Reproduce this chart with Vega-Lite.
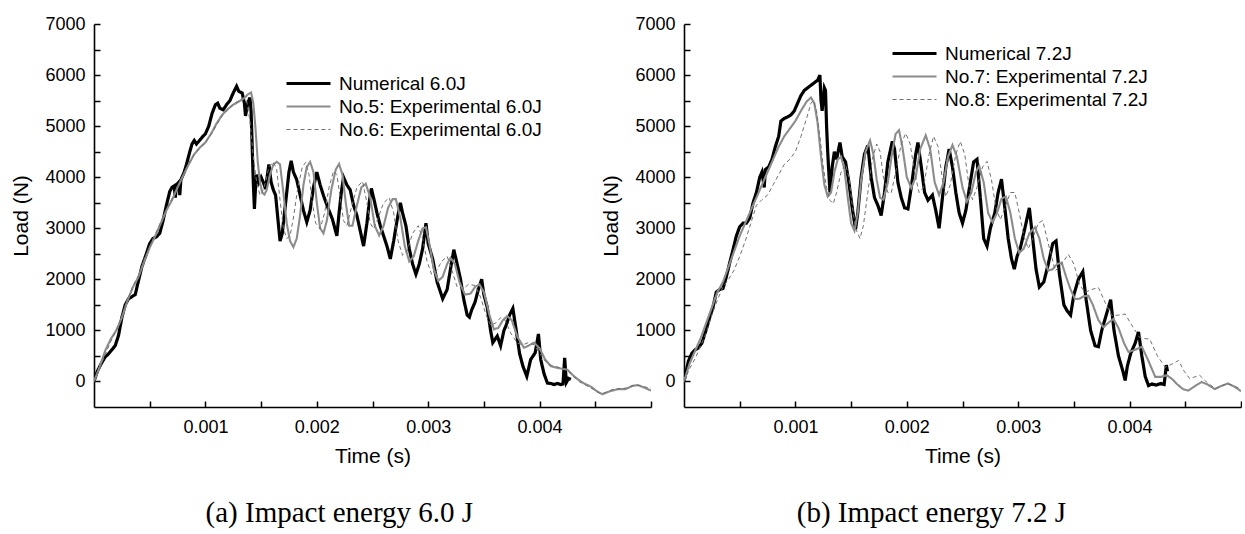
{
"$schema": "https://vega.github.io/schema/vega-lite/v6.json",
"background": "white",
"autosize": {"type": "pad"},
"padding": {"left": 10, "top": 15, "right": 0, "bottom": 0},
"spacing": 33,
"bounds": "flush",
"config": {
 "view": {"stroke": null},
 "font": "Liberation Sans",
 "axis": {"grid": false, "domainColor": "black", "domainWidth": 1.6, "tickColor": "black", "tickWidth": 1.5, "tickSize": -6, "labelFont": "Liberation Sans", "labelFontSize": 18, "labelColor": "black", "titleFont": "Liberation Sans", "titleFontSize": 21, "titleFontWeight": "normal", "titleColor": "black", "labelOverlap": false, "labelFlush": false},
 "legend": {"title": null, "orient": "none", "symbolType": "M-4,0H4", "symbolSize": 121, "labelFont": "Liberation Sans", "labelFontSize": 19, "labelColor": "black", "rowPadding": 3, "labelOffset": 21, "labelLimit": 400}
},
"datasets": {
"a": [
{"s":"N","t":0,"y":0},{"s":"N","t":0.00003,"y":200},{"s":"N","t":0.00006,"y":330},{"s":"N","t":0.0001,"y":480},{"s":"N","t":0.00013,"y":540},{"s":"N","t":0.00016,"y":620},{"s":"N","t":0.00019,"y":700},{"s":"N","t":0.00022,"y":900},{"s":"N","t":0.00025,"y":1250},{"s":"N","t":0.00028,"y":1500},{"s":"N","t":0.00031,"y":1620},{"s":"N","t":0.00034,"y":1660},{"s":"N","t":0.00037,"y":1700},{"s":"N","t":0.0004,"y":1980},{"s":"N","t":0.00043,"y":2250},{"s":"N","t":0.00047,"y":2500},{"s":"N","t":0.0005,"y":2700},{"s":"N","t":0.00053,"y":2800},{"s":"N","t":0.00056,"y":2830},{"s":"N","t":0.00059,"y":2900},{"s":"N","t":0.00062,"y":3150},{"s":"N","t":0.00065,"y":3450},{"s":"N","t":0.00068,"y":3720},{"s":"N","t":0.0007,"y":3800},{"s":"N","t":0.00072,"y":3830},{"s":"N","t":0.00073,"y":3600},{"s":"N","t":0.00074,"y":3850},{"s":"N","t":0.00076,"y":3900},{"s":"N","t":0.00077,"y":3650},{"s":"N","t":0.00078,"y":3950},{"s":"N","t":0.00081,"y":4100},{"s":"N","t":0.00083,"y":4250},{"s":"N","t":0.00086,"y":4500},{"s":"N","t":0.00088,"y":4650},{"s":"N","t":0.0009,"y":4720},{"s":"N","t":0.00092,"y":4650},{"s":"N","t":0.00094,"y":4700},{"s":"N","t":0.00097,"y":4780},{"s":"N","t":0.001,"y":4850},{"s":"N","t":0.00103,"y":5000},{"s":"N","t":0.00106,"y":5250},{"s":"N","t":0.00109,"y":5420},{"s":"N","t":0.00111,"y":5450},{"s":"N","t":0.00113,"y":5350},{"s":"N","t":0.00116,"y":5320},{"s":"N","t":0.00119,"y":5420},{"s":"N","t":0.00122,"y":5500},{"s":"N","t":0.00125,"y":5650},{"s":"N","t":0.00128,"y":5780},{"s":"N","t":0.0013,"y":5680},{"s":"N","t":0.00133,"y":5650},{"s":"N","t":0.00135,"y":5450},{"s":"N","t":0.00136,"y":5200},{"s":"N","t":0.00138,"y":5450},{"s":"N","t":0.0014,"y":5560},{"s":"N","t":0.00141,"y":5300},{"s":"N","t":0.00142,"y":4600},{"s":"N","t":0.00143,"y":3900},{"s":"N","t":0.00144,"y":3380},{"s":"N","t":0.00145,"y":3800},{"s":"N","t":0.00146,"y":4050},{"s":"N","t":0.00148,"y":3900},{"s":"N","t":0.0015,"y":4000},{"s":"N","t":0.00152,"y":3900},{"s":"N","t":0.00154,"y":3770},{"s":"N","t":0.00156,"y":4100},{"s":"N","t":0.00157,"y":4250},{"s":"N","t":0.00159,"y":3900},{"s":"N","t":0.00161,"y":3750},{"s":"N","t":0.00163,"y":3650},{"s":"N","t":0.00165,"y":3200},{"s":"N","t":0.00167,"y":2750},{"s":"N","t":0.00169,"y":2900},{"s":"N","t":0.00171,"y":3300},{"s":"N","t":0.00173,"y":3700},{"s":"N","t":0.00175,"y":4100},{"s":"N","t":0.00177,"y":4320},{"s":"N","t":0.00179,"y":4100},{"s":"N","t":0.00182,"y":3950},{"s":"N","t":0.00185,"y":3650},{"s":"N","t":0.00188,"y":3350},{"s":"N","t":0.00191,"y":3120},{"s":"N","t":0.00194,"y":3350},{"s":"N","t":0.00197,"y":3800},{"s":"N","t":0.002,"y":4100},{"s":"N","t":0.00203,"y":3850},{"s":"N","t":0.00206,"y":3640},{"s":"N","t":0.0021,"y":3400},{"s":"N","t":0.00214,"y":3180},{"s":"N","t":0.00218,"y":2850},{"s":"N","t":0.0022,"y":3300},{"s":"N","t":0.00222,"y":3700},{"s":"N","t":0.00224,"y":4000},{"s":"N","t":0.00227,"y":3850},{"s":"N","t":0.0023,"y":3750},{"s":"N","t":0.00233,"y":3450},{"s":"N","t":0.00236,"y":3250},{"s":"N","t":0.00239,"y":2950},{"s":"N","t":0.00242,"y":2650},{"s":"N","t":0.00245,"y":3100},{"s":"N","t":0.00247,"y":3500},{"s":"N","t":0.00249,"y":3780},{"s":"N","t":0.00252,"y":3500},{"s":"N","t":0.00254,"y":3300},{"s":"N","t":0.00257,"y":3050},{"s":"N","t":0.0026,"y":2850},{"s":"N","t":0.00263,"y":2650},{"s":"N","t":0.00266,"y":2400},{"s":"N","t":0.00269,"y":2750},{"s":"N","t":0.00272,"y":3150},{"s":"N","t":0.00275,"y":3500},{"s":"N","t":0.00277,"y":3300},{"s":"N","t":0.0028,"y":3050},{"s":"N","t":0.00283,"y":2600},{"s":"N","t":0.00286,"y":2300},{"s":"N","t":0.00289,"y":2100},{"s":"N","t":0.00292,"y":2300},{"s":"N","t":0.00295,"y":2600},{"s":"N","t":0.00298,"y":3100},{"s":"N","t":0.003,"y":2700},{"s":"N","t":0.00304,"y":2400},{"s":"N","t":0.00308,"y":1950},{"s":"N","t":0.00313,"y":1620},{"s":"N","t":0.00317,"y":1800},{"s":"N","t":0.0032,"y":2200},{"s":"N","t":0.00323,"y":2580},{"s":"N","t":0.00326,"y":2300},{"s":"N","t":0.00329,"y":2000},{"s":"N","t":0.00332,"y":1600},{"s":"N","t":0.00335,"y":1300},{"s":"N","t":0.00337,"y":1260},{"s":"N","t":0.00339,"y":1400},{"s":"N","t":0.00342,"y":1550},{"s":"N","t":0.00345,"y":1800},{"s":"N","t":0.00348,"y":2000},{"s":"N","t":0.0035,"y":1700},{"s":"N","t":0.00353,"y":1450},{"s":"N","t":0.00356,"y":1000},{"s":"N","t":0.00358,"y":760},{"s":"N","t":0.00362,"y":890},{"s":"N","t":0.00365,"y":700},{"s":"N","t":0.00368,"y":1000},{"s":"N","t":0.0037,"y":1100},{"s":"N","t":0.00373,"y":1300},{"s":"N","t":0.00376,"y":1430},{"s":"N","t":0.00379,"y":1000},{"s":"N","t":0.00382,"y":550},{"s":"N","t":0.00385,"y":300},{"s":"N","t":0.003885,"y":100},{"s":"N","t":0.00392,"y":430},{"s":"N","t":0.00396,"y":560},{"s":"N","t":0.00399,"y":930},{"s":"N","t":0.00401,"y":430},{"s":"N","t":0.00404,"y":150},{"s":"N","t":0.00407,"y":-30},{"s":"N","t":0.0041,"y":-40},{"s":"N","t":0.00413,"y":-60},{"s":"N","t":0.00416,"y":-40},{"s":"N","t":0.00419,"y":-60},{"s":"N","t":0.00421,"y":-50},{"s":"N","t":0.004225,"y":460},{"s":"N","t":0.00424,"y":-20},{"s":"N","t":0.00426,"y":60},{"s":"N","t":0.00428,"y":40},
{"s":"E5","t":0,"y":0},{"s":"E5","t":0.00005,"y":280},{"s":"E5","t":0.0001,"y":600},{"s":"E5","t":0.00015,"y":830},{"s":"E5","t":0.0002,"y":1000},{"s":"E5","t":0.00025,"y":1250},{"s":"E5","t":0.0003,"y":1580},{"s":"E5","t":0.00035,"y":1850},{"s":"E5","t":0.0004,"y":2050},{"s":"E5","t":0.00045,"y":2350},{"s":"E5","t":0.0005,"y":2620},{"s":"E5","t":0.00055,"y":2850},{"s":"E5","t":0.0006,"y":3100},{"s":"E5","t":0.00065,"y":3350},{"s":"E5","t":0.0007,"y":3550},{"s":"E5","t":0.00075,"y":3800},{"s":"E5","t":0.0008,"y":4030},{"s":"E5","t":0.00085,"y":4250},{"s":"E5","t":0.0009,"y":4450},{"s":"E5","t":0.00095,"y":4580},{"s":"E5","t":0.001,"y":4680},{"s":"E5","t":0.00105,"y":4850},{"s":"E5","t":0.0011,"y":5050},{"s":"E5","t":0.00115,"y":5220},{"s":"E5","t":0.0012,"y":5330},{"s":"E5","t":0.00125,"y":5420},{"s":"E5","t":0.0013,"y":5480},{"s":"E5","t":0.00135,"y":5550},{"s":"E5","t":0.00138,"y":5620},{"s":"E5","t":0.00141,"y":5660},{"s":"E5","t":0.00143,"y":5450},{"s":"E5","t":0.00145,"y":4950},{"s":"E5","t":0.00147,"y":4300},{"s":"E5","t":0.00149,"y":3900},{"s":"E5","t":0.00151,"y":3700},{"s":"E5","t":0.00153,"y":3660},{"s":"E5","t":0.00155,"y":3750},{"s":"E5","t":0.00158,"y":4050},{"s":"E5","t":0.00161,"y":4250},{"s":"E5","t":0.00164,"y":4300},{"s":"E5","t":0.00167,"y":4250},{"s":"E5","t":0.0017,"y":3700},{"s":"E5","t":0.00173,"y":3100},{"s":"E5","t":0.00176,"y":2750},{"s":"E5","t":0.00179,"y":2630},{"s":"E5","t":0.00182,"y":2800},{"s":"E5","t":0.00185,"y":3250},{"s":"E5","t":0.00188,"y":3850},{"s":"E5","t":0.00191,"y":4200},{"s":"E5","t":0.00194,"y":4300},{"s":"E5","t":0.00197,"y":4100},{"s":"E5","t":0.002,"y":3500},{"s":"E5","t":0.00203,"y":3000},{"s":"E5","t":0.00206,"y":2900},{"s":"E5","t":0.00209,"y":3150},{"s":"E5","t":0.00213,"y":3750},{"s":"E5","t":0.00217,"y":4150},{"s":"E5","t":0.0022,"y":4260},{"s":"E5","t":0.00223,"y":4050},{"s":"E5","t":0.00226,"y":3500},{"s":"E5","t":0.00229,"y":3050},{"s":"E5","t":0.00232,"y":3050},{"s":"E5","t":0.00236,"y":3450},{"s":"E5","t":0.0024,"y":3800},{"s":"E5","t":0.00244,"y":3870},{"s":"E5","t":0.00248,"y":3600},{"s":"E5","t":0.00252,"y":3050},{"s":"E5","t":0.00256,"y":2860},{"s":"E5","t":0.0026,"y":3050},{"s":"E5","t":0.00264,"y":3400},{"s":"E5","t":0.00268,"y":3570},{"s":"E5","t":0.00271,"y":3570},{"s":"E5","t":0.00275,"y":3200},{"s":"E5","t":0.00279,"y":2650},{"s":"E5","t":0.00283,"y":2350},{"s":"E5","t":0.00287,"y":2450},{"s":"E5","t":0.00291,"y":2750},{"s":"E5","t":0.00295,"y":3000},{"s":"E5","t":0.00298,"y":3020},{"s":"E5","t":0.00301,"y":2700},{"s":"E5","t":0.00305,"y":2200},{"s":"E5","t":0.00309,"y":1970},{"s":"E5","t":0.00313,"y":2050},{"s":"E5","t":0.00317,"y":2300},{"s":"E5","t":0.0032,"y":2420},{"s":"E5","t":0.00324,"y":2300},{"s":"E5","t":0.00328,"y":1950},{"s":"E5","t":0.00333,"y":1700},{"s":"E5","t":0.00338,"y":1720},{"s":"E5","t":0.00342,"y":1850},{"s":"E5","t":0.00346,"y":1900},{"s":"E5","t":0.0035,"y":1750},{"s":"E5","t":0.00355,"y":1300},{"s":"E5","t":0.00359,"y":1020},{"s":"E5","t":0.00363,"y":1050},{"s":"E5","t":0.00367,"y":1200},{"s":"E5","t":0.00371,"y":1280},{"s":"E5","t":0.00375,"y":1200},{"s":"E5","t":0.0038,"y":880},{"s":"E5","t":0.00386,"y":660},{"s":"E5","t":0.0039,"y":700},{"s":"E5","t":0.00395,"y":760},{"s":"E5","t":0.004,"y":650},{"s":"E5","t":0.00405,"y":430},{"s":"E5","t":0.0041,"y":300},{"s":"E5","t":0.00415,"y":270},{"s":"E5","t":0.0042,"y":250},{"s":"E5","t":0.00425,"y":230},{"s":"E5","t":0.0043,"y":120},{"s":"E5","t":0.00435,"y":30},{"s":"E5","t":0.0044,"y":-40},{"s":"E5","t":0.00446,"y":-100},{"s":"E5","t":0.00452,"y":-200},{"s":"E5","t":0.004565,"y":-250},{"s":"E5","t":0.00462,"y":-200},{"s":"E5","t":0.0047,"y":-150},{"s":"E5","t":0.00477,"y":-150},{"s":"E5","t":0.00483,"y":-90},{"s":"E5","t":0.00488,"y":-70},{"s":"E5","t":0.00494,"y":-120},{"s":"E5","t":0.005,"y":-180},
{"s":"E6","t":0,"y":0},{"s":"E6","t":0.00005,"y":250},{"s":"E6","t":0.0001,"y":520},{"s":"E6","t":0.00015,"y":780},{"s":"E6","t":0.0002,"y":1000},{"s":"E6","t":0.00025,"y":1280},{"s":"E6","t":0.0003,"y":1600},{"s":"E6","t":0.00035,"y":1870},{"s":"E6","t":0.0004,"y":2080},{"s":"E6","t":0.00045,"y":2380},{"s":"E6","t":0.0005,"y":2650},{"s":"E6","t":0.00055,"y":2880},{"s":"E6","t":0.0006,"y":3120},{"s":"E6","t":0.00065,"y":3380},{"s":"E6","t":0.0007,"y":3580},{"s":"E6","t":0.00075,"y":3830},{"s":"E6","t":0.0008,"y":4050},{"s":"E6","t":0.00085,"y":4270},{"s":"E6","t":0.0009,"y":4450},{"s":"E6","t":0.00095,"y":4570},{"s":"E6","t":0.001,"y":4680},{"s":"E6","t":0.00105,"y":4830},{"s":"E6","t":0.0011,"y":5020},{"s":"E6","t":0.00115,"y":5200},{"s":"E6","t":0.0012,"y":5330},{"s":"E6","t":0.00125,"y":5430},{"s":"E6","t":0.0013,"y":5500},{"s":"E6","t":0.00134,"y":5560},{"s":"E6","t":0.00137,"y":5500},{"s":"E6","t":0.0014,"y":5100},{"s":"E6","t":0.00143,"y":4400},{"s":"E6","t":0.00146,"y":3900},{"s":"E6","t":0.00149,"y":3650},{"s":"E6","t":0.00151,"y":3700},{"s":"E6","t":0.00154,"y":3900},{"s":"E6","t":0.00157,"y":4200},{"s":"E6","t":0.00161,"y":4300},{"s":"E6","t":0.00164,"y":4150},{"s":"E6","t":0.00167,"y":3550},{"s":"E6","t":0.0017,"y":3000},{"s":"E6","t":0.00173,"y":2800},{"s":"E6","t":0.00176,"y":2850},{"s":"E6","t":0.00179,"y":3200},{"s":"E6","t":0.00183,"y":3800},{"s":"E6","t":0.00187,"y":4200},{"s":"E6","t":0.0019,"y":4290},{"s":"E6","t":0.00193,"y":4050},{"s":"E6","t":0.00196,"y":3500},{"s":"E6","t":0.00199,"y":3100},{"s":"E6","t":0.00203,"y":2990},{"s":"E6","t":0.00207,"y":3300},{"s":"E6","t":0.00211,"y":3800},{"s":"E6","t":0.00215,"y":4120},{"s":"E6","t":0.00218,"y":4050},{"s":"E6","t":0.00221,"y":3600},{"s":"E6","t":0.00224,"y":3150},{"s":"E6","t":0.00227,"y":3050},{"s":"E6","t":0.00231,"y":3400},{"s":"E6","t":0.00236,"y":3800},{"s":"E6","t":0.00241,"y":3920},{"s":"E6","t":0.00245,"y":3500},{"s":"E6","t":0.00248,"y":3100},{"s":"E6","t":0.00251,"y":2990},{"s":"E6","t":0.00255,"y":3200},{"s":"E6","t":0.0026,"y":3500},{"s":"E6","t":0.00265,"y":3600},{"s":"E6","t":0.00269,"y":3300},{"s":"E6","t":0.00273,"y":2750},{"s":"E6","t":0.00277,"y":2470},{"s":"E6","t":0.00281,"y":2550},{"s":"E6","t":0.00286,"y":2900},{"s":"E6","t":0.00291,"y":3050},{"s":"E6","t":0.00295,"y":2800},{"s":"E6","t":0.00299,"y":2350},{"s":"E6","t":0.00303,"y":2100},{"s":"E6","t":0.00307,"y":2150},{"s":"E6","t":0.00312,"y":2350},{"s":"E6","t":0.00317,"y":2450},{"s":"E6","t":0.00321,"y":2200},{"s":"E6","t":0.00326,"y":1850},{"s":"E6","t":0.00331,"y":1800},{"s":"E6","t":0.00336,"y":1900},{"s":"E6","t":0.00342,"y":1880},{"s":"E6","t":0.00347,"y":1650},{"s":"E6","t":0.00352,"y":1300},{"s":"E6","t":0.00356,"y":1100},{"s":"E6","t":0.00361,"y":1150},{"s":"E6","t":0.00365,"y":1250},{"s":"E6","t":0.00369,"y":1200},{"s":"E6","t":0.00374,"y":950},{"s":"E6","t":0.0038,"y":750},{"s":"E6","t":0.00385,"y":720},{"s":"E6","t":0.0039,"y":760},{"s":"E6","t":0.00395,"y":720},{"s":"E6","t":0.004,"y":550},{"s":"E6","t":0.00405,"y":400},{"s":"E6","t":0.0041,"y":320},{"s":"E6","t":0.00415,"y":290},{"s":"E6","t":0.0042,"y":260},{"s":"E6","t":0.00425,"y":220},{"s":"E6","t":0.0043,"y":100},{"s":"E6","t":0.00436,"y":-10},{"s":"E6","t":0.00442,"y":-80},{"s":"E6","t":0.00448,"y":-150},{"s":"E6","t":0.00454,"y":-230},{"s":"E6","t":0.00459,"y":-220},{"s":"E6","t":0.00465,"y":-160},{"s":"E6","t":0.00472,"y":-140},{"s":"E6","t":0.00478,"y":-130},{"s":"E6","t":0.00485,"y":-70},{"s":"E6","t":0.0049,"y":-80},{"s":"E6","t":0.00495,"y":-110},{"s":"E6","t":0.005,"y":-130}
],
"b": [
{"s":"N","t":0,"y":0},{"s":"N","t":0.00004,"y":400},{"s":"N","t":0.00007,"y":550},{"s":"N","t":0.0001,"y":620},{"s":"N","t":0.00013,"y":660},{"s":"N","t":0.00016,"y":750},{"s":"N","t":0.0002,"y":1020},{"s":"N","t":0.00023,"y":1250},{"s":"N","t":0.00026,"y":1450},{"s":"N","t":0.00029,"y":1750},{"s":"N","t":0.00032,"y":1800},{"s":"N","t":0.00035,"y":1820},{"s":"N","t":0.00038,"y":2050},{"s":"N","t":0.00041,"y":2320},{"s":"N","t":0.00044,"y":2580},{"s":"N","t":0.00047,"y":2850},{"s":"N","t":0.0005,"y":3030},{"s":"N","t":0.00053,"y":3100},{"s":"N","t":0.00056,"y":3100},{"s":"N","t":0.00059,"y":3200},{"s":"N","t":0.00062,"y":3500},{"s":"N","t":0.00065,"y":3700},{"s":"N","t":0.00068,"y":4000},{"s":"N","t":0.0007,"y":4100},{"s":"N","t":0.00072,"y":3800},{"s":"N","t":0.00073,"y":4150},{"s":"N","t":0.00076,"y":4200},{"s":"N","t":0.00079,"y":4350},{"s":"N","t":0.00082,"y":4600},{"s":"N","t":0.00085,"y":4800},{"s":"N","t":0.00087,"y":5100},{"s":"N","t":0.0009,"y":5150},{"s":"N","t":0.00093,"y":5180},{"s":"N","t":0.00096,"y":5220},{"s":"N","t":0.00099,"y":5300},{"s":"N","t":0.00102,"y":5450},{"s":"N","t":0.00105,"y":5600},{"s":"N","t":0.00108,"y":5700},{"s":"N","t":0.00111,"y":5750},{"s":"N","t":0.00114,"y":5800},{"s":"N","t":0.00117,"y":5850},{"s":"N","t":0.0012,"y":5900},{"s":"N","t":0.00122,"y":6000},{"s":"N","t":0.00123,"y":5500},{"s":"N","t":0.00124,"y":5300},{"s":"N","t":0.00126,"y":5750},{"s":"N","t":0.00127,"y":5700},{"s":"N","t":0.00128,"y":5000},{"s":"N","t":0.00129,"y":4500},{"s":"N","t":0.00131,"y":3700},{"s":"N","t":0.00133,"y":4200},{"s":"N","t":0.00135,"y":4500},{"s":"N","t":0.00137,"y":4350},{"s":"N","t":0.0014,"y":4680},{"s":"N","t":0.00142,"y":4400},{"s":"N","t":0.00145,"y":4300},{"s":"N","t":0.00148,"y":3900},{"s":"N","t":0.00151,"y":3400},{"s":"N","t":0.00154,"y":2980},{"s":"N","t":0.00156,"y":3300},{"s":"N","t":0.00159,"y":4000},{"s":"N","t":0.00162,"y":4450},{"s":"N","t":0.00165,"y":4620},{"s":"N","t":0.00168,"y":4000},{"s":"N","t":0.00171,"y":3600},{"s":"N","t":0.00174,"y":3450},{"s":"N","t":0.00177,"y":3250},{"s":"N","t":0.0018,"y":3700},{"s":"N","t":0.00183,"y":4300},{"s":"N","t":0.00187,"y":4700},{"s":"N","t":0.00189,"y":4550},{"s":"N","t":0.00192,"y":3900},{"s":"N","t":0.00195,"y":3600},{"s":"N","t":0.00198,"y":3400},{"s":"N","t":0.00201,"y":3380},{"s":"N","t":0.00204,"y":3800},{"s":"N","t":0.00208,"y":4450},{"s":"N","t":0.0021,"y":4680},{"s":"N","t":0.00213,"y":4200},{"s":"N","t":0.00216,"y":3700},{"s":"N","t":0.00219,"y":3550},{"s":"N","t":0.00223,"y":3650},{"s":"N","t":0.00226,"y":3350},{"s":"N","t":0.00229,"y":3000},{"s":"N","t":0.00232,"y":3600},{"s":"N","t":0.00235,"y":4200},{"s":"N","t":0.00238,"y":4550},{"s":"N","t":0.00241,"y":4200},{"s":"N","t":0.00244,"y":3700},{"s":"N","t":0.00247,"y":3300},{"s":"N","t":0.0025,"y":3100},{"s":"N","t":0.00253,"y":3350},{"s":"N","t":0.00257,"y":3900},{"s":"N","t":0.0026,"y":4300},{"s":"N","t":0.00263,"y":4350},{"s":"N","t":0.00266,"y":3600},{"s":"N","t":0.00269,"y":2800},{"s":"N","t":0.00272,"y":2650},{"s":"N","t":0.00275,"y":3000},{"s":"N","t":0.00279,"y":3300},{"s":"N","t":0.00282,"y":3700},{"s":"N","t":0.00285,"y":3960},{"s":"N","t":0.00288,"y":3400},{"s":"N","t":0.00291,"y":2800},{"s":"N","t":0.00294,"y":2400},{"s":"N","t":0.002965,"y":2200},{"s":"N","t":0.00299,"y":2450},{"s":"N","t":0.00302,"y":2620},{"s":"N","t":0.00306,"y":3000},{"s":"N","t":0.0031,"y":3400},{"s":"N","t":0.00313,"y":2800},{"s":"N","t":0.00316,"y":2200},{"s":"N","t":0.00319,"y":1850},{"s":"N","t":0.00323,"y":1950},{"s":"N","t":0.00327,"y":2300},{"s":"N","t":0.00331,"y":2700},{"s":"N","t":0.00334,"y":2750},{"s":"N","t":0.00337,"y":2100},{"s":"N","t":0.00341,"y":1500},{"s":"N","t":0.00344,"y":1380},{"s":"N","t":0.00347,"y":1300},{"s":"N","t":0.0035,"y":1700},{"s":"N","t":0.00354,"y":2000},{"s":"N","t":0.00358,"y":2150},{"s":"N","t":0.00361,"y":1600},{"s":"N","t":0.00365,"y":1000},{"s":"N","t":0.00369,"y":700},{"s":"N","t":0.00372,"y":680},{"s":"N","t":0.00375,"y":1000},{"s":"N","t":0.00379,"y":1300},{"s":"N","t":0.00383,"y":1600},{"s":"N","t":0.00386,"y":1000},{"s":"N","t":0.0039,"y":500},{"s":"N","t":0.00394,"y":200},{"s":"N","t":0.00396,"y":20},{"s":"N","t":0.00398,"y":300},{"s":"N","t":0.00401,"y":550},{"s":"N","t":0.00405,"y":750},{"s":"N","t":0.00408,"y":970},{"s":"N","t":0.00411,"y":500},{"s":"N","t":0.00414,"y":100},{"s":"N","t":0.00417,"y":-80},{"s":"N","t":0.0042,"y":-50},{"s":"N","t":0.00424,"y":-70},{"s":"N","t":0.00428,"y":-40},{"s":"N","t":0.00431,"y":-60},{"s":"N","t":0.00433,"y":320},{"s":"N","t":0.00434,"y":200},
{"s":"E7","t":0,"y":0},{"s":"E7","t":0.00005,"y":350},{"s":"E7","t":0.0001,"y":600},{"s":"E7","t":0.00015,"y":850},{"s":"E7","t":0.0002,"y":1150},{"s":"E7","t":0.00025,"y":1450},{"s":"E7","t":0.0003,"y":1750},{"s":"E7","t":0.00035,"y":1950},{"s":"E7","t":0.0004,"y":2250},{"s":"E7","t":0.00045,"y":2550},{"s":"E7","t":0.0005,"y":2850},{"s":"E7","t":0.00055,"y":3100},{"s":"E7","t":0.0006,"y":3350},{"s":"E7","t":0.00065,"y":3600},{"s":"E7","t":0.0007,"y":3850},{"s":"E7","t":0.00075,"y":4100},{"s":"E7","t":0.0008,"y":4350},{"s":"E7","t":0.00085,"y":4600},{"s":"E7","t":0.0009,"y":4800},{"s":"E7","t":0.00095,"y":4950},{"s":"E7","t":0.001,"y":5100},{"s":"E7","t":0.00105,"y":5300},{"s":"E7","t":0.0011,"y":5480},{"s":"E7","t":0.00114,"y":5560},{"s":"E7","t":0.00117,"y":5450},{"s":"E7","t":0.0012,"y":5050},{"s":"E7","t":0.00123,"y":4400},{"s":"E7","t":0.00126,"y":3850},{"s":"E7","t":0.00129,"y":3620},{"s":"E7","t":0.00132,"y":3700},{"s":"E7","t":0.00135,"y":4100},{"s":"E7","t":0.00138,"y":4350},{"s":"E7","t":0.00141,"y":4400},{"s":"E7","t":0.00144,"y":4150},{"s":"E7","t":0.00147,"y":3600},{"s":"E7","t":0.0015,"y":3100},{"s":"E7","t":0.00153,"y":2950},{"s":"E7","t":0.00156,"y":3300},{"s":"E7","t":0.00159,"y":3950},{"s":"E7","t":0.00163,"y":4500},{"s":"E7","t":0.00167,"y":4720},{"s":"E7","t":0.0017,"y":4450},{"s":"E7","t":0.00173,"y":3950},{"s":"E7","t":0.00176,"y":3600},{"s":"E7","t":0.00179,"y":3560},{"s":"E7","t":0.00183,"y":3900},{"s":"E7","t":0.00187,"y":4500},{"s":"E7","t":0.0019,"y":4850},{"s":"E7","t":0.00193,"y":4920},{"s":"E7","t":0.00196,"y":4600},{"s":"E7","t":0.002,"y":4000},{"s":"E7","t":0.00204,"y":3790},{"s":"E7","t":0.00208,"y":4000},{"s":"E7","t":0.00212,"y":4550},{"s":"E7","t":0.00217,"y":4820},{"s":"E7","t":0.00221,"y":4550},{"s":"E7","t":0.00225,"y":3900},{"s":"E7","t":0.00229,"y":3650},{"s":"E7","t":0.00233,"y":3900},{"s":"E7","t":0.00237,"y":4400},{"s":"E7","t":0.00241,"y":4630},{"s":"E7","t":0.00245,"y":4400},{"s":"E7","t":0.0025,"y":3800},{"s":"E7","t":0.00254,"y":3520},{"s":"E7","t":0.00258,"y":3700},{"s":"E7","t":0.00262,"y":4100},{"s":"E7","t":0.00265,"y":4220},{"s":"E7","t":0.00269,"y":3900},{"s":"E7","t":0.00273,"y":3300},{"s":"E7","t":0.00277,"y":3120},{"s":"E7","t":0.00281,"y":3300},{"s":"E7","t":0.00285,"y":3580},{"s":"E7","t":0.00289,"y":3620},{"s":"E7","t":0.00293,"y":3300},{"s":"E7","t":0.00297,"y":2800},{"s":"E7","t":0.00301,"y":2520},{"s":"E7","t":0.00305,"y":2600},{"s":"E7","t":0.0031,"y":2900},{"s":"E7","t":0.00315,"y":3020},{"s":"E7","t":0.00319,"y":2800},{"s":"E7","t":0.00323,"y":2400},{"s":"E7","t":0.00327,"y":2170},{"s":"E7","t":0.00331,"y":2200},{"s":"E7","t":0.00335,"y":2300},{"s":"E7","t":0.00339,"y":2330},{"s":"E7","t":0.00343,"y":2050},{"s":"E7","t":0.00347,"y":1800},{"s":"E7","t":0.00351,"y":1614},{"s":"E7","t":0.00355,"y":1620},{"s":"E7","t":0.00359,"y":1670},{"s":"E7","t":0.00363,"y":1680},{"s":"E7","t":0.00367,"y":1500},{"s":"E7","t":0.00372,"y":1200},{"s":"E7","t":0.003766,"y":1063},{"s":"E7","t":0.00381,"y":1150},{"s":"E7","t":0.003855,"y":1225},{"s":"E7","t":0.0039,"y":1050},{"s":"E7","t":0.00395,"y":750},{"s":"E7","t":0.00399,"y":577},{"s":"E7","t":0.00405,"y":620},{"s":"E7","t":0.00411,"y":680},{"s":"E7","t":0.00417,"y":400},{"s":"E7","t":0.00423,"y":90},{"s":"E7","t":0.00428,"y":90},{"s":"E7","t":0.004335,"y":122},{"s":"E7","t":0.00438,"y":50},{"s":"E7","t":0.00443,"y":-60},{"s":"E7","t":0.00448,"y":-150},{"s":"E7","t":0.004526,"y":-180},{"s":"E7","t":0.00458,"y":-100},{"s":"E7","t":0.004645,"y":-10},{"s":"E7","t":0.0047,"y":-60},{"s":"E7","t":0.004764,"y":-150},{"s":"E7","t":0.00482,"y":-90},{"s":"E7","t":0.004883,"y":-40},{"s":"E7","t":0.00494,"y":-100},{"s":"E7","t":0.005,"y":-190},
{"s":"E8","t":0,"y":0},{"s":"E8","t":0.00005,"y":250},{"s":"E8","t":0.0001,"y":450},{"s":"E8","t":0.00015,"y":700},{"s":"E8","t":0.0002,"y":950},{"s":"E8","t":0.00025,"y":1300},{"s":"E8","t":0.0003,"y":1600},{"s":"E8","t":0.00035,"y":1850},{"s":"E8","t":0.0004,"y":2000},{"s":"E8","t":0.00045,"y":2180},{"s":"E8","t":0.0005,"y":2450},{"s":"E8","t":0.00055,"y":2750},{"s":"E8","t":0.0006,"y":3100},{"s":"E8","t":0.00065,"y":3450},{"s":"E8","t":0.0007,"y":3560},{"s":"E8","t":0.00075,"y":3650},{"s":"E8","t":0.0008,"y":3850},{"s":"E8","t":0.00085,"y":4050},{"s":"E8","t":0.0009,"y":4250},{"s":"E8","t":0.00095,"y":4350},{"s":"E8","t":0.001,"y":4500},{"s":"E8","t":0.00105,"y":4800},{"s":"E8","t":0.0011,"y":5150},{"s":"E8","t":0.00114,"y":5450},{"s":"E8","t":0.00116,"y":5500},{"s":"E8","t":0.00119,"y":5300},{"s":"E8","t":0.00122,"y":4800},{"s":"E8","t":0.00125,"y":4200},{"s":"E8","t":0.00128,"y":3800},{"s":"E8","t":0.00131,"y":3550},{"s":"E8","t":0.00134,"y":3480},{"s":"E8","t":0.00137,"y":3700},{"s":"E8","t":0.00141,"y":4100},{"s":"E8","t":0.00145,"y":4250},{"s":"E8","t":0.00148,"y":4000},{"s":"E8","t":0.00151,"y":3450},{"s":"E8","t":0.00154,"y":3000},{"s":"E8","t":0.00158,"y":2800},{"s":"E8","t":0.00161,"y":3050},{"s":"E8","t":0.00165,"y":3700},{"s":"E8","t":0.00169,"y":4350},{"s":"E8","t":0.00173,"y":4650},{"s":"E8","t":0.00176,"y":4500},{"s":"E8","t":0.00179,"y":4000},{"s":"E8","t":0.00183,"y":3700},{"s":"E8","t":0.00186,"y":3690},{"s":"E8","t":0.0019,"y":4100},{"s":"E8","t":0.00195,"y":4650},{"s":"E8","t":0.00199,"y":4860},{"s":"E8","t":0.00203,"y":4650},{"s":"E8","t":0.00207,"y":4100},{"s":"E8","t":0.00211,"y":3700},{"s":"E8","t":0.00215,"y":3800},{"s":"E8","t":0.0022,"y":4450},{"s":"E8","t":0.00224,"y":4800},{"s":"E8","t":0.00228,"y":4600},{"s":"E8","t":0.00232,"y":3950},{"s":"E8","t":0.00235,"y":3620},{"s":"E8","t":0.00239,"y":3850},{"s":"E8","t":0.00244,"y":4450},{"s":"E8","t":0.00248,"y":4700},{"s":"E8","t":0.00252,"y":4450},{"s":"E8","t":0.00256,"y":3800},{"s":"E8","t":0.00259,"y":3560},{"s":"E8","t":0.00263,"y":3800},{"s":"E8","t":0.00268,"y":4200},{"s":"E8","t":0.00272,"y":4310},{"s":"E8","t":0.00276,"y":3950},{"s":"E8","t":0.0028,"y":3400},{"s":"E8","t":0.00284,"y":3170},{"s":"E8","t":0.00288,"y":3400},{"s":"E8","t":0.00293,"y":3700},{"s":"E8","t":0.00297,"y":3700},{"s":"E8","t":0.00301,"y":3300},{"s":"E8","t":0.00305,"y":2850},{"s":"E8","t":0.00309,"y":2600},{"s":"E8","t":0.00313,"y":2800},{"s":"E8","t":0.00318,"y":3100},{"s":"E8","t":0.00322,"y":3150},{"s":"E8","t":0.00327,"y":2700},{"s":"E8","t":0.003333,"y":2167},{"s":"E8","t":0.00339,"y":2300},{"s":"E8","t":0.00345,"y":2490},{"s":"E8","t":0.0035,"y":2300},{"s":"E8","t":0.00355,"y":1900},{"s":"E8","t":0.0036,"y":1745},{"s":"E8","t":0.00366,"y":1800},{"s":"E8","t":0.00372,"y":1840},{"s":"E8","t":0.00378,"y":1550},{"s":"E8","t":0.00384,"y":1290},{"s":"E8","t":0.0039,"y":1300},{"s":"E8","t":0.00396,"y":1320},{"s":"E8","t":0.00402,"y":1100},{"s":"E8","t":0.00409,"y":863},{"s":"E8","t":0.00414,"y":840},{"s":"E8","t":0.00418,"y":830},{"s":"E8","t":0.00425,"y":500},{"s":"E8","t":0.00432,"y":280},{"s":"E8","t":0.00438,"y":340},{"s":"E8","t":0.00444,"y":410},{"s":"E8","t":0.00449,"y":200},{"s":"E8","t":0.00454,"y":54},{"s":"E8","t":0.004585,"y":90},{"s":"E8","t":0.00463,"y":120},{"s":"E8","t":0.0047,"y":-30},{"s":"E8","t":0.00477,"y":-140},{"s":"E8","t":0.00482,"y":-100},{"s":"E8","t":0.00487,"y":-40},{"s":"E8","t":0.00493,"y":-80},{"s":"E8","t":0.00499,"y":-140}
]
},
"hconcat": [
{
 "data": {"name": "a"},
 "width": 557, "height": 383,
 "title": {"text": "(a) Impact energy 6.0 J", "orient": "bottom", "frame": "bounds", "anchor": "middle", "font": "Liberation Serif", "fontSize": 29, "fontWeight": "normal", "color": "black", "offset": 33, "dx": 8},
 "mark": {"type": "line", "clip": true},
 "encoding": {
  "x": {"field": "t", "type": "quantitative", "scale": {"domain": [0, 0.005], "nice": false, "zero": false}, "axis": {"title": "Time (s)", "values": [0.0005,0.001,0.0015,0.002,0.0025,0.003,0.0035,0.004,0.0045,0.005], "labelExpr": "datum.value > 0.0009 && datum.value < 0.0041 && abs(datum.value*1000 - round(datum.value*1000)) < 0.001 ? format(datum.value, '.3f') : ''", "labelPadding": 17, "titlePadding": 9}},
  "y": {"field": "y", "type": "quantitative", "scale": {"domain": [-500, 7000], "nice": false, "zero": false}, "axis": {"title": "Load (N)", "values": [0,500,1000,1500,2000,2500,3000,3500,4000,4500,5000,5500,6000,6500,7000], "labelExpr": "datum.value % 1000 === 0 ? format(datum.value, 'd') : ''", "labelPadding": 15, "titlePadding": 13, "encode": {"title": {"update": {"dx": {"value": 12}}}}}},
  "color": {"field": "s", "type": "nominal", "scale": {"domain": ["N","E5","E6"], "range": ["#000000","#8c8c8c","#707070"]}, "legend": {"legendX": 205, "legendY": 50, "labelExpr": "datum.label === 'N' ? 'Numerical 6.0J' : datum.label === 'E5' ? 'No.5: Experimental 6.0J' : 'No.6: Experimental 6.0J'"}},
  "strokeDash": {"field": "s", "type": "nominal", "scale": {"domain": ["N","E5","E6"], "range": [[1,0],[1,0],[4,3]]}},
  "strokeWidth": {"field": "s", "type": "nominal", "scale": {"domain": ["N","E5","E6"], "range": [3.2,1,1]}}
 }
},
{
 "data": {"name": "b"},
 "width": 557, "height": 383,
 "title": {"text": "(b) Impact energy 7.2 J", "orient": "bottom", "frame": "bounds", "anchor": "middle", "font": "Liberation Serif", "fontSize": 29, "fontWeight": "normal", "color": "black", "offset": 33, "dx": 10},
 "mark": {"type": "line", "clip": true},
 "encoding": {
  "x": {"field": "t", "type": "quantitative", "scale": {"domain": [0, 0.005], "nice": false, "zero": false}, "axis": {"title": "Time (s)", "values": [0.0005,0.001,0.0015,0.002,0.0025,0.003,0.0035,0.004,0.0045,0.005], "labelExpr": "datum.value > 0.0009 && datum.value < 0.0041 && abs(datum.value*1000 - round(datum.value*1000)) < 0.001 ? format(datum.value, '.3f') : ''", "labelPadding": 17, "titlePadding": 9}},
  "y": {"field": "y", "type": "quantitative", "scale": {"domain": [-500, 7000], "nice": false, "zero": false}, "axis": {"title": "Load (N)", "values": [0,500,1000,1500,2000,2500,3000,3500,4000,4500,5000,5500,6000,6500,7000], "labelExpr": "datum.value % 1000 === 0 ? format(datum.value, 'd') : ''", "labelPadding": 15, "titlePadding": 13, "encode": {"title": {"update": {"dx": {"value": 12}}}}}},
  "color": {"field": "s", "type": "nominal", "scale": {"domain": ["N","E7","E8"], "range": ["#000000","#8c8c8c","#707070"]}, "legend": {"legendX": 221, "legendY": 20, "labelExpr": "datum.label === 'N' ? 'Numerical 7.2J' : datum.label === 'E7' ? 'No.7: Experimental 7.2J' : 'No.8: Experimental 7.2J'"}},
  "strokeDash": {"field": "s", "type": "nominal", "scale": {"domain": ["N","E7","E8"], "range": [[1,0],[1,0],[4,3]]}},
  "strokeWidth": {"field": "s", "type": "nominal", "scale": {"domain": ["N","E7","E8"], "range": [3.2,1,1]}}
 }
}
],
"resolve": {"scale": {"color": "independent", "strokeDash": "independent", "strokeWidth": "independent", "x": "independent", "y": "independent"}}
}
